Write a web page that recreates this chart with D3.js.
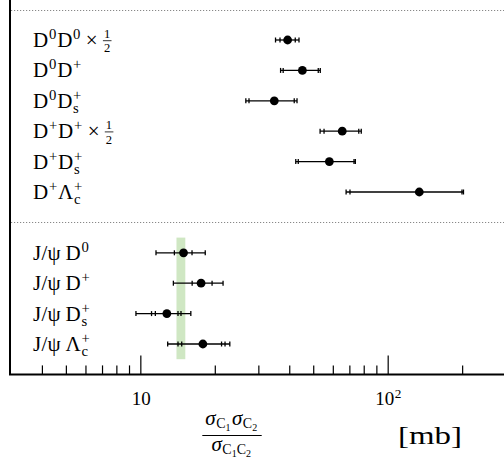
<!DOCTYPE html>
<html>
<head>
<meta charset="utf-8">
<title>Cross-section ratios</title>
<style>
  body { margin: 0; background: #fff; }
  text { font-family: "Liberation Serif", "DejaVu Serif", serif; fill: #000; white-space: pre; }
  .sep { stroke: #888; stroke-width: 1; stroke-dasharray: 1.2,1.8; }
  .frame { stroke: #000; stroke-width: 2; fill: none; }
  .err { stroke: #000; stroke-width: 1.3; }
  .tick line { stroke: #000; stroke-width: 1.2; }
</style>
</head>
<body>
<svg width="504" height="460"></svg>
<script src="https://d3js.org/d3.v7.min.js"></script>
<script>

// channel labels (^ = superscript, _ = subscript, \half = 1/2)
var labels = ["D^0D^0\u2009×\u2009\\half", "D^0D^+", "D^0D^+_s", "D^+D^+\u2009×\u2009\\half", "D^+D^+_s", "D^+Λ^+_c",
              "J/ψ\u2009D^0", "J/ψ\u2009D^+", "J/ψ\u2009D^+_s", "J/ψ\u2009Λ^+_c"];
// row slot of each channel (slot 6 is the gap between groups)
var slots = [0, 1, 2, 3, 4, 5, 7, 8, 9, 10];
var central = [39.4, 45.2, 34.8, 65.5, 58.1, 134.2, 14.95, 17.6, 12.8, 17.9];
// error bar caps below and above the central value (stat, total ...)
var capsLow = [[36.7, 35.2], [37.8, 36.9], [27.5, 26.7], [55.3, 53.3], [43.5, 42.5], [70.4, 67.9],
               [13.73, 11.57], [16.2, 13.6], [11.5, 11.1, 9.6], [14.7, 14.2, 12.9]];
var capsHigh = [[42.3, 43.8], [52.4, 53.4], [41.9, 43.0], [76.4, 78.2], [73.1, 74.0], [199.7, 202.5],
                [16.18, 18.3], [19.5, 21.6], [14.2, 14.6, 16.0], [21.3, 22.0, 23.0]];
// green band for the J/psi group
var band = [14.0, 15.2];
var separators = [-1, 6];
var majorTicks = [10, 100];
var majorLabels = ["10", "10^2"];

var svg = d3.select("svg");

var x = d3.scaleLog().domain([3, 300]).range([11, 505.7]);
var y = d3.scaleLinear().domain([-1, 11]).range([9.6, 374.4]);

// band
svg.append("rect")
    .attr("x", x(band[0]))
    .attr("width", x(band[1]) - x(band[0]))
    .attr("y", y(6.5))
    .attr("height", y(10.5) - y(6.5))
    .attr("fill", "#cfe7c3");

// dotted separators
svg.selectAll(".sep").data(separators).enter().append("line")
    .attr("class", "sep")
    .attr("x1", 11).attr("x2", 504)
    .attr("y1", function(d) { return Math.round(y(d)) + 0.5; })
    .attr("y2", function(d) { return Math.round(y(d)) + 0.5; });

// axes: ticks pointing up
var minor = x.ticks().filter(function(d) { return d > 3 && d < 300 && majorTicks.indexOf(d) < 0; });
svg.append("g")
    .attr("transform", "translate(0," + y(11) + ")")
    .call(d3.axisBottom(x).tickValues(minor).tickSize(-9).tickFormat(""))
    .call(function(g) { g.select(".domain").remove(); });
svg.append("g")
    .attr("transform", "translate(0," + y(11) + ")")
    .call(d3.axisBottom(x).tickValues(majorTicks).tickSize(-19).tickFormat(""))
    .call(function(g) { g.select(".domain").remove(); });

svg.append("path")
    .attr("class", "frame")
    .attr("d", "M10,0V" + y(11) + "H504");

// rich text helper
function rich(g, str, x0, y0, size) {
  var cx = x0, i = 0;
  function put(t, dx, dy, fs) {
    var el = g.append("text").attr("x", cx + dx).attr("y", y0 + dy)
        .style("font-size", fs + "px").text(t);
    return el.node().getComputedTextLength();
  }
  while (i < str.length) {
    if (str.startsWith("\\half", i)) {
      var fs = size * 0.6;
      var w = put("1", 1.5, -size * 0.42, fs);
      put("2", 1.5, size * 0.26, fs);
      g.append("line").attr("x1", cx + 0.5).attr("x2", cx + w + 2.5)
          .attr("y1", y0 - size * 0.3).attr("y2", y0 - size * 0.3)
          .attr("stroke", "#000").attr("stroke-width", 0.8);
      cx += w + 3;
      i += 5;
    } else if (str[i] === "^") {
      var sw = put(str[i + 1], 0.5, -size * 0.38, size * 0.7);
      i += 2;
      if (str[i] === "_") {
        var bw = put(str[i + 1], 0.5, size * 0.26, size * 0.7);
        sw = Math.max(sw, bw);
        i += 2;
      }
      cx += sw + 1;
    } else {
      var j = i;
      while (j < str.length && str[j] !== "^" && !str.startsWith("\\half", j)) j++;
      cx += put(str.slice(i, j), 0, 0, size);
      i = j;
    }
  }
  return cx - x0;
}

// channel labels
var lab = svg.append("g").style("letter-spacing", "0.3px");
labels.forEach(function(s, k) { rich(lab, s, 33, y(slots[k]) + 7, 21); });

// error bars
var eb = svg.append("g");
central.forEach(function(c, k) {
  var yy = y(slots[k]);
  var lo = d3.min(capsLow[k]), hi = d3.max(capsHigh[k]);
  eb.append("line").attr("class", "err")
      .attr("x1", x(lo)).attr("x2", x(hi)).attr("y1", yy).attr("y2", yy);
  capsLow[k].concat(capsHigh[k]).forEach(function(v) {
    eb.append("line").attr("class", "err")
        .attr("x1", x(v)).attr("x2", x(v)).attr("y1", yy - 2.5).attr("y2", yy + 2.5);
  });
  eb.append("circle").attr("cx", x(c)).attr("cy", yy).attr("r", 4.4).attr("fill", "#000");
});

// tick labels
var tl = svg.append("g");
majorTicks.forEach(function(t, k) {
  var tmp = svg.append("g");
  var w = rich(tmp, majorLabels[k], 0, 0, 19);
  tmp.remove();
  rich(tl, majorLabels[k], x(t) - w / 2 + 1, 405, 19);
});

// axis title
var tt = svg.append("g");
var num = tt.append("g"), den = tt.append("g");
function sigma(g, parts, x0, y0) {
  var cx = x0;
  parts.forEach(function(p) {
    var a = g.append("text").attr("x", cx).attr("y", y0).style("font-size", "21px")
        .style("font-style", "italic").text("σ");
    cx += a.node().getComputedTextLength() + 0.5;
    var b = g.append("text").attr("x", cx).attr("y", y0 + 3).style("font-size", "14px").text("C");
    cx += b.node().getComputedTextLength();
    p.forEach(function(n, m) {
      var c = g.append("text").attr("x", cx).attr("y", y0 + 5.5).style("font-size", "10px").text(n);
      cx += c.node().getComputedTextLength();
      if (m < p.length - 1) {
        var d = g.append("text").attr("x", cx).attr("y", y0 + 3).style("font-size", "14px").text("C");
        cx += d.node().getComputedTextLength();
      }
    });
    cx += 1.5;
  });
  return cx - x0;
}
var wn = sigma(num, [["1"], ["2"]], 0, 425);
var wd = sigma(den, [["1", "2"]], 0, 451);
var cxT = 232;
num.attr("transform", "translate(" + (cxT - wn / 2) + ",0)");
den.attr("transform", "translate(" + (cxT - wd / 2) + ",0)");
tt.append("line").attr("x1", cxT - wn / 2 - 3).attr("x2", cxT + wn / 2 + 3)
    .attr("y1", 435.5).attr("y2", 435.5).attr("stroke", "#000").attr("stroke-width", 1);

// unit label, stretched to the reference width
var unit = svg.append("text").attr("y", 444).style("font-size", "26px").text("[mb]");
var uw = unit.node().getComputedTextLength();
unit.attr("transform", "translate(398,0) scale(" + (64 / uw) + ",1)");

</script>
</body>
</html>
